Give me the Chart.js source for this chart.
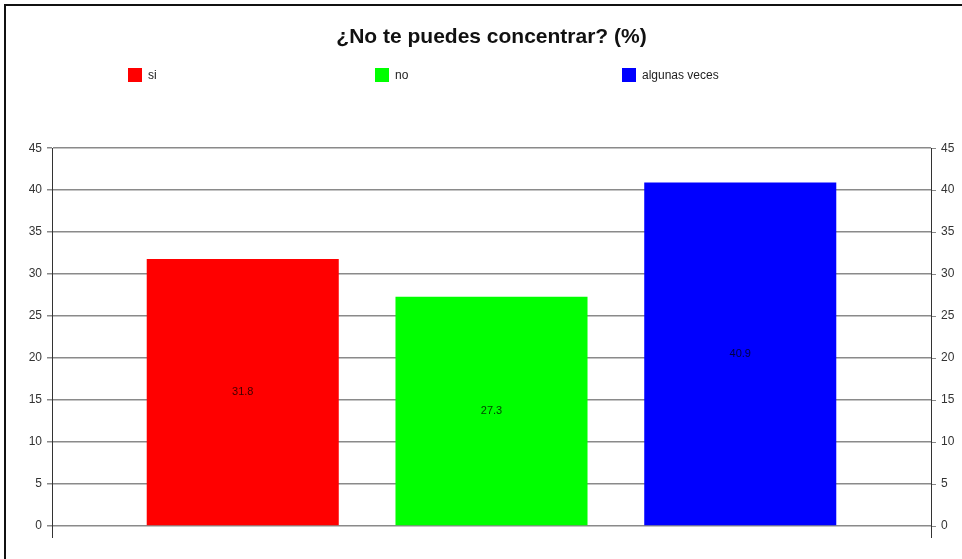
<!DOCTYPE html>
<html>
<head>
<meta charset="utf-8">
<title>¿No te puedes concentrar? (%)</title>
<script src="https://cdn.jsdelivr.net/npm/chart.js@4/dist/chart.umd.min.js"></script>
<style>
  html, body { margin: 0; padding: 0; background: #fff; }
  canvas { display: block; }
</style>
</head>
<body>
<canvas id="concentrarChart" width="962" height="559"></canvas>
<script>
// Survey answers (%)
const answers = ['si', 'no', 'algunas veces'];
const percents = [31.8, 27.3, 40.9];
const barColors = ['#ff0000', '#00ff00', '#0000ff'];
const yTicks = [0, 5, 10, 15, 20, 25, 30, 35, 40, 45];

const FONT = '"Liberation Sans", Arial, sans-serif';

// White page with the thin frame on the left and top edges
const framePlugin = {
    id: 'frame',
    beforeDraw(chart) {
        const c = chart.ctx;
        c.save();
        c.fillStyle = '#fff';
        c.fillRect(0, 0, chart.width, chart.height);
        c.strokeStyle = '#111';
        c.lineWidth = 2;
        c.beginPath();
        c.moveTo(5, chart.height);
        c.lineTo(5, 5);
        c.lineTo(chart.width, 5);
        c.stroke();
        c.restore();
    }
};

// Legend spread across the top in fixed columns
const spreadLegend = {
    id: 'spreadLegend',
    afterDraw(chart) {
        const c = chart.ctx;
        c.save();
        c.font = '12px ' + FONT;
        c.textBaseline = 'middle';
        c.textAlign = 'left';
        chart.data.datasets.forEach((ds, i) => {
            const x = 128 + i * 247;
            const y = 75;
            c.fillStyle = ds.backgroundColor;
            c.fillRect(x, y - 7, 14, 14);
            c.fillStyle = '#222';
            c.fillText(ds.label, x + 20, y + 1);
        });
        c.restore();
    }
};

// Value printed in the middle of each bar
const midLabels = {
    id: 'midLabels',
    afterDatasetsDraw(chart) {
        const c = chart.ctx;
        c.save();
        c.font = '11px ' + FONT;
        c.fillStyle = 'rgba(0,0,0,0.75)';
        c.textAlign = 'center';
        c.textBaseline = 'middle';
        chart.data.datasets.forEach((ds, i) => {
            chart.getDatasetMeta(i).data.forEach((bar, j) => {
                const v = ds.data[j];
                c.fillText(v.toFixed(1), bar.x, (bar.y + bar.base) / 2);
            });
        });
        c.restore();
    }
};

const ticksFrom = (scale) => {
    scale.ticks = yTicks.map(v => ({ value: v }));
};

new Chart(document.getElementById('concentrarChart'), {
    type: 'bar',
    data: {
        labels: [''],
        datasets: answers.map((name, i) => ({
            label: name,
            data: [percents[i]],
            backgroundColor: barColors[i],
            borderWidth: 0,
            categoryPercentage: 0.849,
            barPercentage: 0.772,
            yAxisID: 'y'
        }))
    },
    options: {
        responsive: false,
        animation: false,
        layout: { padding: { left: 0, right: 0, top: 0, bottom: 21 } },
        scales: {
            x: {
                offset: true,
                ticks: { display: false },
                grid: {
                    offset: true,
                    drawOnChartArea: false,
                    drawTicks: true,
                    tickLength: 12,
                    color: '#333'
                },
                border: { display: false }
            },
            y: {
                position: 'left',
                min: 0,
                max: 45,
                afterBuildTicks: ticksFrom,
                afterFit(scale) { scale.width = 52; },
                ticks: {
                    padding: 5,
                    color: '#333',
                    font: { family: FONT, size: 12 }
                },
                grid: {
                    color: '#8a8a8a',
                    lineWidth: 1.5,
                    tickLength: 5
                },
                border: { display: true, color: '#333', width: 1 }
            },
            y2: {
                position: 'right',
                min: 0,
                max: 45,
                afterBuildTicks: ticksFrom,
                afterFit(scale) { scale.width = 31; },
                ticks: {
                    padding: 5,
                    color: '#333',
                    font: { family: FONT, size: 12 }
                },
                grid: {
                    drawOnChartArea: false,
                    color: '#8a8a8a',
                    tickLength: 5
                },
                border: { display: true, color: '#333', width: 1 }
            }
        },
        plugins: {
            legend: { display: false },
            tooltip: { enabled: false },
            title: {
                display: true,
                fullSize: false,
                text: '¿No te puedes concentrar? (%)',
                color: '#111',
                font: { family: FONT, size: 21, weight: 'bold', lineHeight: 1.2 },
                padding: { top: 25, bottom: 98 }
            }
        }
    },
    plugins: [framePlugin, spreadLegend, midLabels]
});
</script>
</body>
</html>
